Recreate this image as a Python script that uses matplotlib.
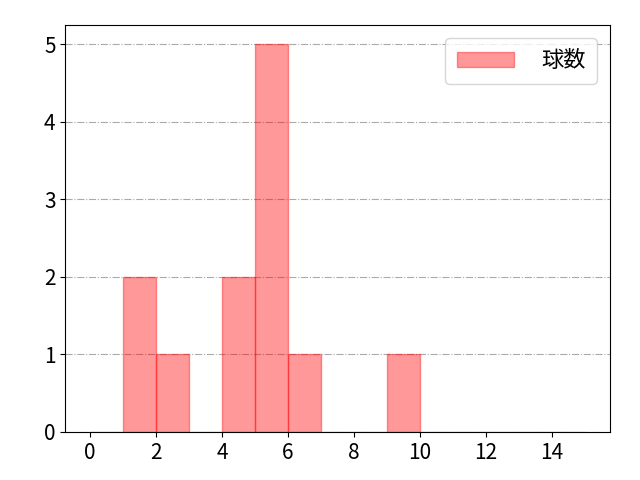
import matplotlib.pyplot as plt
import numpy as np

plt.rcParams['font.family'] = ['Noto Sans CJK JP', 'DejaVu Sans']

# 球数ごとの値(ヒストグラム用)
pitch_values = [1, 1, 2, 4, 4, 5, 5, 5, 5, 5, 6, 9]
bins = np.arange(0, 16, 1)
label = '球数'

fig, ax = plt.subplots(figsize=(6.4, 4.8), dpi=100)
ax.hist(pitch_values, bins=bins, color='red', alpha=0.4, edgecolor='red', label=label)
ax.grid(axis='y', color='#aaaaaa', linestyle='-.', linewidth=0.8)
ax.set_axisbelow(True)
ax.set_xticks(np.arange(0, 16, 2))
ax.tick_params(labelsize=15)
ax.legend(fontsize=16, loc='upper right', handlelength=2.6, handletextpad=1.2,
          borderpad=0.5, borderaxespad=0.6)

fig.subplots_adjust(left=0.102, right=0.953, top=0.948, bottom=0.1)
plt.savefig('out.png', dpi=100)
plt.close()
